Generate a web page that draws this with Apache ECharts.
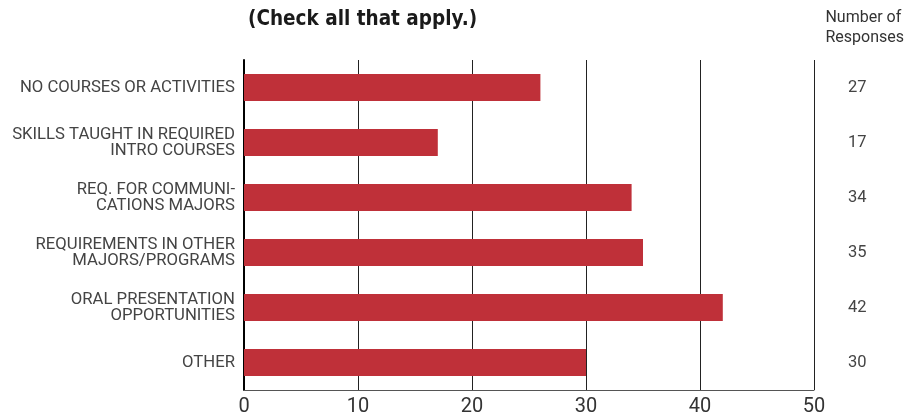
<!DOCTYPE html>
<html>
<head>
<meta charset="utf-8">
<script src="https://cdn.jsdelivr.net/npm/echarts@6/dist/echarts.min.js"></script>
<style>html,body{margin:0;padding:0;background:#fff}#c{width:906px;height:418px}</style>
</head>
<body>
<div id="c"></div>
<script>
const categories = [
  'NO COURSES OR ACTIVITIES',
  'SKILLS TAUGHT IN REQUIRED\nINTRO COURSES',
  'REQ. FOR COMMUNI-\nCATIONS MAJORS',
  'REQUIREMENTS IN OTHER\nMAJORS/PROGRAMS',
  'ORAL PRESENTATION\nOPPORTUNITIES',
  'OTHER'
];
const barValues = [26, 17, 34, 35, 42, 30];
const responseLabels = ['27', '17', '34', '35', '42', '30'];
const xTicks = [0, 10, 20, 30, 40, 50];

const chart = echarts.init(document.getElementById('c'));
chart.setOption({
  animation: false,
  backgroundColor: '#fff',
  title: [{
    text: '(Check all that apply.)',
    left: 243, top: 4,
    textStyle: {fontFamily: '"Liberation Sans Narrow","DejaVu Sans Condensed",Roboto,sans-serif', fontWeight: 'bold', fontSize: 20.5, color: '#1a1a1a'}
  }, {
    text: 'Number of\nResponses',
    right: -3, top: 3,
    textStyle: {fontFamily: 'Roboto, sans-serif', fontWeight: 'normal', fontSize: 16, lineHeight: 20, color: '#333', align: 'right'}
  }],
  grid: {left: 244, right: 92, top: 60, bottom: 28, containLabel: false},
  xAxis: {
    type: 'value', min: 0, max: 50, interval: 10,
    axisLine: {show: true, lineStyle: {color: '#555', width: 1}},
    axisTick: {show: false},
    splitLine: {show: true, lineStyle: {color: '#222', width: 1}},
    axisLabel: {
      fontFamily: 'Roboto, sans-serif', fontSize: 20, color: '#333', margin: 7,
      formatter: v => xTicks.includes(v) ? String(v) : ''
    }
  },
  yAxis: [{
    type: 'category', inverse: true, data: categories,
    axisLine: {show: true, lineStyle: {color: '#000', width: 2}},
    axisTick: {show: false},
    splitLine: {show: false},
    axisLabel: {fontFamily: 'Roboto, sans-serif', fontSize: 16.7, lineHeight: 16, color: '#444', margin: 9, align: 'right', padding: [4, 0, 0, 0]}
  }, {
    type: 'category', inverse: true, data: responseLabels, position: 'right',
    axisLine: {show: false}, axisTick: {show: false}, splitLine: {show: false},
    axisLabel: {fontFamily: 'Roboto, sans-serif', fontSize: 16.5, color: '#444', margin: 34, align: 'left', padding: [3, 0, 0, 0]}
  }],
  series: [{
    type: 'bar', data: barValues, yAxisIndex: 0,
    barWidth: 27,
    itemStyle: {color: '#bf3039'}
  }]
});
</script>
</body>
</html>
